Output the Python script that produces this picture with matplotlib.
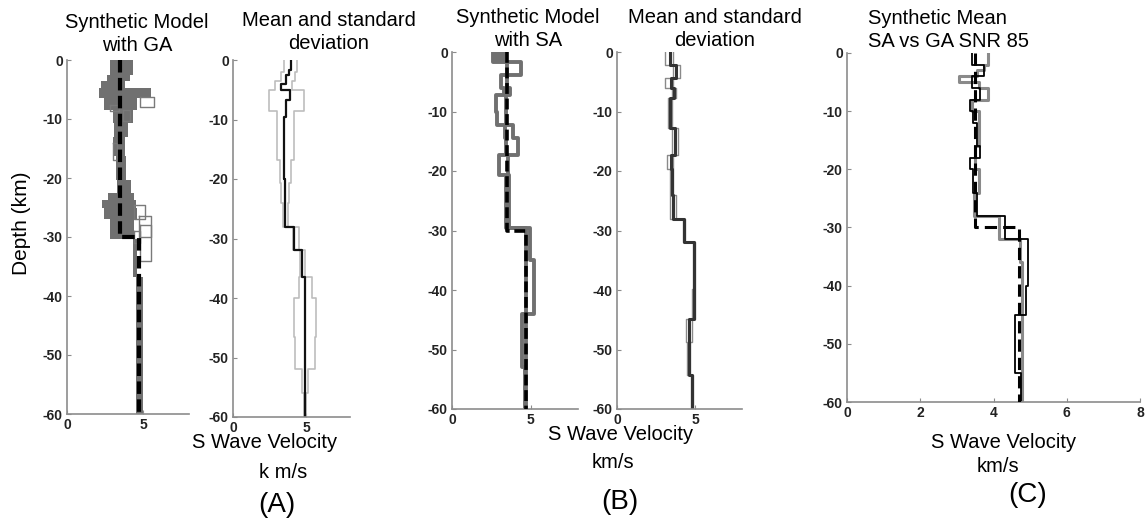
import numpy as np
import matplotlib.pyplot as plt

plt.rcParams['font.family'] = ['Liberation Sans', 'DejaVu Sans']

# ---- true synthetic model (depth km, S velocity km/s)
true_depth = [0, 30, 60]
true_vel = [3.5, 4.7]

# ---- (A) GA ensemble envelope
ga_env_depth = [0, 2.5, 3.5, 4.7, 6.5, 8.4, 10.7, 13, 16.3, 20.3, 22.5, 23.7, 25, 27, 30.4, 34.4, 36.7, 60]
ga_env_lo = [2.8, 2.6, 2.2, 2.1, 2.4, 3.0, 3.1, 3.0, 3.2, 3.3, 2.7, 2.3, 2.4, 2.8, 4.3, 4.3, 4.5]
ga_env_hi = [4.3, 4.1, 3.8, 5.5, 4.6, 4.3, 4.0, 3.8, 3.9, 4.2, 4.4, 4.5, 4.6, 4.4, 4.6, 4.6, 5.0]
# hollow GA models sticking out of the cloud
ga_box_v0 = [4.8, 2.8, 3.7, 4.4, 4.7, 4.8, 4.4, 3.0]
ga_box_v1 = [5.7, 3.4, 4.1, 5.1, 5.5, 5.5, 4.8, 3.3]
ga_box_d0 = [6.2, 7.6, 8.5, 24.5, 26.5, 28.0, 29.0, 14.0]
ga_box_d1 = [7.9, 8.6, 10.3, 27.0, 30.0, 34.0, 31.0, 17.0]

# ---- (A) GA mean and standard deviation
ga_mean_depth = [0, 1.7, 2.5, 4, 5, 6.7, 9.5, 20, 24, 28, 32, 36.4, 60]
ga_mean_v = [3.96, 3.86, 3.65, 3.3, 3.93, 3.63, 3.5, 3.58, 3.54, 4.2, 4.7, 4.9]
ga_std_depth = [0, 2, 3.5, 5, 8.5, 16.8, 20.7, 24, 28, 32, 36.4, 40, 46.5, 52, 56, 60]
ga_std_lo = [3.5, 3.3, 2.9, 2.45, 3.0, 3.2, 3.25, 3.45, 4.1, 4.6, 4.5, 4.2, 4.25, 4.75, 4.85]
ga_std_hi = [4.4, 4.25, 4.0, 4.85, 4.2, 3.95, 3.85, 3.75, 4.5, 4.9, 5.4, 5.7, 5.6, 5.1, 5.0]

# ---- (B) SA ensemble envelope
sa_env_depth = [0, 1.6, 3.9, 6.1, 7.2, 10, 12.3, 14.5, 17.3, 20.7, 29.6, 35, 44, 53, 60]
sa_env_lo = [2.6, 3.5, 3.1, 3.3, 2.8, 2.85, 3.35, 3.45, 3.0, 3.45, 4.7, 4.7, 4.43, 4.65]
sa_env_hi = [3.4, 4.4, 3.5, 3.7, 3.45, 3.4, 3.9, 4.2, 3.55, 3.6, 4.95, 5.2, 4.7, 4.7]

# ---- (B) SA mean and standard deviation
sa_mean_depth = [0, 2.2, 4.4, 6.1, 7.8, 12.8, 17.3, 19.6, 24, 28, 32, 39.8, 44.8, 48.8, 54.3, 60]
sa_mean_v = [3.4, 3.8, 3.43, 3.65, 3.4, 3.7, 3.45, 3.5, 3.57, 4.28, 4.95, 4.9, 4.6, 4.6, 4.78]
sa_std_lo = [3.1, 3.58, 3.05, 3.5, 3.25, 3.5, 3.2, 3.36, 3.36, 4.2, 4.88, 4.83, 4.4, 4.5, 4.72]
sa_std_hi = [3.6, 4.0, 3.58, 3.8, 3.5, 3.9, 3.58, 3.58, 3.77, 4.33, 5.02, 4.97, 4.8, 4.68, 4.85]

# ---- (C) mean models compared
c_sa_depth = [0, 2, 4, 6, 8, 10, 12, 16, 18, 20, 24, 28, 32, 40, 45, 55, 60]
c_sa_v = [3.41, 3.73, 3.4, 3.64, 3.35, 3.44, 3.55, 3.62, 3.36, 3.45, 3.55, 4.32, 4.95, 4.89, 4.59, 4.75]
c_ga_depth = [0, 2, 3, 4, 5, 6, 8, 10, 16, 20, 24, 28, 32, 36, 60]
c_ga_v = [3.84, 3.75, 3.55, 3.06, 3.6, 3.84, 3.4, 3.6, 3.5, 3.6, 3.48, 4.14, 4.71, 4.77]

depth_ticks = [0, -10, -20, -30, -40, -50, -60]


def steps(depth, vel):
    d = np.asarray(depth, float)
    v = np.asarray(vel, float)
    return np.repeat(v, 2), -np.repeat(d, 2)[1:-1]


W, H = 1148, 521
fig = plt.figure(figsize=(W / 100, H / 100), dpi=100)


def panel(x0, y0, x1, y1, xt):
    ax = fig.add_axes([x0 / W, 1 - y1 / H, (x1 - x0) / W, (y1 - y0) / H])
    ax.set_xlim(0, 8)
    ax.set_ylim(-60, 0)
    for s in ['top', 'right']:
        ax.spines[s].set_visible(False)
    for s in ['left', 'bottom']:
        ax.spines[s].set_color('#8c8c8c')
        ax.spines[s].set_linewidth(1.2)
    ax.set_xticks(xt)
    ax.set_xticklabels([str(t) for t in xt], fontweight='bold')
    ax.set_yticks(depth_ticks)
    ax.set_yticklabels([str(t) for t in depth_ticks], fontweight='bold')
    ax.tick_params(direction='in', length=3, width=0.8, color='#8c8c8c',
                   labelsize=10, labelcolor='#222222', pad=3)
    return ax


def true_model(ax, lw):
    x, y = steps(true_depth, true_vel)
    ax.plot(x, y, color='black', lw=lw, ls=(0, (3, 1.3)), zorder=5)


# ---------------- A1 : GA ensemble
ax = panel(67, 60, 189, 414, [0, 5])
x, y = steps(ga_env_depth, ga_env_lo)
x2, _ = steps(ga_env_depth, ga_env_hi)
ax.fill_betweenx(y, x, x2, color='#707070', lw=0)
for v0, v1, d0, d1 in zip(ga_box_v0, ga_box_v1, ga_box_d0, ga_box_d1):
    ax.plot([v0, v1, v1, v0, v0], [-d0, -d0, -d1, -d1, -d0], color='#7a7a7a', lw=1)
true_model(ax, 3)

# ---------------- A2 : GA mean and std
ax = panel(233, 60, 350, 417, [0, 5])
for lim in (ga_std_lo, ga_std_hi):
    x, y = steps(ga_std_depth, lim)
    ax.plot(x, y, color='#bdbdbd', lw=1.2)
x, y = steps(ga_mean_depth, ga_mean_v)
ax.plot(x, y, color='#111111', lw=1.6)

# ---------------- B1 : SA ensemble
ax = panel(452, 52, 578, 409, [0, 5])
ax.fill_betweenx([0, -sa_env_depth[1]], sa_env_lo[0], sa_env_hi[0], color='#707070', lw=0)
for lim in (sa_env_lo, sa_env_hi):
    x, y = steps(sa_env_depth, lim)
    ax.plot(x, y, color='#707070', lw=2.8)
true_model(ax, 2.6)

# ---------------- B2 : SA mean and std
ax = panel(617, 52, 742, 409, [0, 5])
for lim in (sa_std_lo, sa_std_hi):
    x, y = steps(sa_mean_depth, lim)
    ax.plot(x, y, color='#8a8a8a', lw=1.0)
x, y = steps(sa_mean_depth, sa_mean_v)
ax.plot(x, y, color='#333333', lw=2.2)

# ---------------- C : comparison
ax = panel(847, 53, 1140, 402, [0, 2, 4, 6, 8])
x, y = steps(c_ga_depth, c_ga_v)
ax.plot(x, y, color='#8a8a8a', lw=2.2)
x, y = steps(c_sa_depth, c_sa_v)
ax.plot(x, y, color='black', lw=1.3)
xt, yt = steps(true_depth, true_vel)
ax.plot(xt, yt, color='black', lw=2.2, ls=(0, (4, 2)), zorder=5)


def ftext(x, y, s, size, **kw):
    fig.text(x / W, 1 - y / H, s, fontsize=size, va='center', **kw)


# titles
ftext(137, 34, 'Synthetic Model\nwith GA', 14.5, ha='center', linespacing=1.25)
ftext(329, 32, 'Mean and standard\ndeviation', 14.5, ha='center', linespacing=1.25)
ftext(528, 29, 'Synthetic Model\nwith SA', 14.5, ha='center', linespacing=1.25)
ftext(715, 29, 'Mean and standard\ndeviation', 14.5, ha='center', linespacing=1.25)
ftext(868, 30, 'Synthetic Mean\nSA vs GA SNR 85', 14.5, ha='left', linespacing=1.25)

# axis labels
ftext(22, 223, 'Depth (km)', 15, ha='center', rotation=90)
ftext(265, 443, 'S Wave Velocity', 14.5, ha='center')
ftext(283, 472, 'k m/s', 14.5, ha='center')
ftext(277, 505, '(A)', 20, ha='center')
ftext(621, 435, 'S Wave Velocity', 14.5, ha='center')
ftext(613, 462, 'km/s', 14.5, ha='center')
ftext(620, 502, '(B)', 20, ha='center')
ftext(1004, 443, 'S Wave Velocity', 14.5, ha='center')
ftext(998, 467, 'km/s', 14.5, ha='center')
ftext(1028, 495, '(C)', 20, ha='center')

fig.savefig('out.png', dpi=100)
